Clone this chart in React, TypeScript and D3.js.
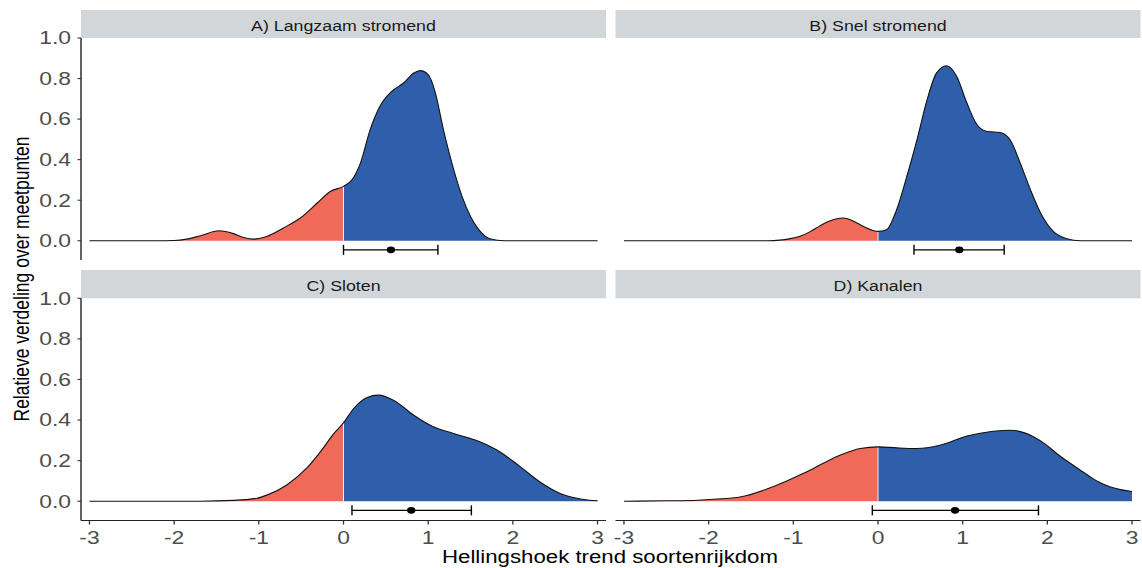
import React from 'react';
import * as d3 from 'd3';

// ---------- data ----------
const panelTitles = ['A) Langzaam stromend', 'B) Snel stromend', 'C) Sloten', 'D) Kanalen'];

const xA = [-3, -2.2, -2.0, -1.85, -1.69, -1.47, -1.3, -1.18, -1.06, -0.9, -0.71, -0.51, -0.31, -0.157, 0, 0.1, 0.2, 0.315, 0.43, 0.57, 0.71, 0.83, 0.906, 1.0, 1.08, 1.18, 1.28, 1.4, 1.5, 1.6, 1.73, 1.9, 3];
const yA = [0, 0, 0.001, 0.008, 0.025, 0.049, 0.035, 0.016, 0.008, 0.022, 0.063, 0.112, 0.186, 0.243, 0.268, 0.3, 0.383, 0.548, 0.663, 0.737, 0.778, 0.827, 0.839, 0.819, 0.737, 0.548, 0.383, 0.219, 0.12, 0.054, 0.01, 0, 0];

const xB = [-3, -1.3, -1.16, -1.05, -0.92, -0.8, -0.69, -0.6, -0.5, -0.41, -0.3, -0.17, 0, 0.1, 0.22, 0.34, 0.46, 0.58, 0.69, 0.81, 0.93, 1.05, 1.17, 1.29, 1.44, 1.56, 1.68, 1.8, 1.92, 2.07, 2.23, 2.39, 3];
const yB = [0, 0, 0.003, 0.009, 0.022, 0.045, 0.072, 0.092, 0.107, 0.112, 0.099, 0.07, 0.046, 0.054, 0.153, 0.317, 0.498, 0.696, 0.827, 0.863, 0.81, 0.679, 0.572, 0.539, 0.534, 0.498, 0.383, 0.252, 0.137, 0.046, 0.01, 0, 0];

const xC = [-3, -1.69, -1.3, -1.02, -0.905, -0.67, -0.43, -0.24, -0.118, 0, 0.12, 0.28, 0.41, 0.59, 0.83, 1.06, 1.3, 1.61, 1.85, 2.09, 2.32, 2.56, 2.8, 3];
const yC = [0, 0, 0.004, 0.015, 0.03, 0.08, 0.165, 0.262, 0.332, 0.386, 0.457, 0.511, 0.523, 0.498, 0.424, 0.367, 0.334, 0.293, 0.243, 0.169, 0.095, 0.038, 0.011, 0.002];

const xD = [-3, -2.5, -2.13, -1.85, -1.63, -1.24, -0.84, -0.45, -0.21, 0, 0.22, 0.46, 0.73, 1.05, 1.36, 1.56, 1.84, 1.98, 2.11, 2.39, 2.5, 2.62, 2.7, 2.78, 2.88, 2.98, 3];
const yD = [0, 0.002, 0.005, 0.012, 0.021, 0.071, 0.145, 0.227, 0.26, 0.268, 0.263, 0.26, 0.276, 0.321, 0.345, 0.35, 0.317, 0.28, 0.235, 0.153, 0.122, 0.092, 0.078, 0.066, 0.056, 0.049, 0.048];

const errLow = [0.0, 0.425, 0.1, -0.067];
const errMid = [0.56, 0.96, 0.8, 0.91];
const errHigh = [1.115, 1.49, 1.51, 1.895];
const errY = -0.045;

const xTicks = [-3, -2, -1, 0, 1, 2, 3];
const yTicks = [0, 0.2, 0.4, 0.6, 0.8, 1.0];

const xTitle = 'Hellingshoek trend soortenrijkdom';
const yTitle = 'Relatieve verdeling over meetpunten';

// ---------- style / layout ----------
const FONT = "'Liberation Sans', Arial, Helvetica, sans-serif";
const SX = 1.27;
const RED = '#F16959';
const BLUE = '#2F5FAA';
const STRIP = '#D3D6D9';
const cols: [number, number][] = [[81, 606], [615.5, 1140.5]];
const rows = [
  { strip: [10, 38], plot: [38, 260] },
  { strip: [270, 298.3], plot: [298.3, 520.5] },
];
const X_DOMAIN: [number, number] = [-3.1, 3.1];
const Y_DOMAIN: [number, number] = [-0.095, 1.0];

const series = [
  { xs: xA, ys: yA },
  { xs: xB, ys: yB },
  { xs: xC, ys: yC },
  { xs: xD, ys: yD },
];

function Txt(props: { x: number; y: number; anchor?: string; size: number; fill?: string; rotate?: boolean; children: any }) {
  const { x, y, anchor = 'middle', size, fill = '#000', rotate = false, children } = props;
  return (
    <text
      transform={`translate(${x},${y}) scale(${SX},1)${rotate ? ' rotate(-90)' : ''}`}
      textAnchor={anchor}
      fontSize={size}
      fontFamily={FONT}
      fill={fill}
    >
      {children}
    </text>
  );
}

function Panel({ i }: { i: number }) {
  const col = cols[i % 2];
  const row = rows[Math.floor(i / 2)];
  const xs = d3.scaleLinear().domain(X_DOMAIN).range(col);
  const ys = d3.scaleLinear().domain(Y_DOMAIN).range([row.plot[1], row.plot[0]]);
  const s = series[i];
  const pts: [number, number][] = s.xs.map((x, k) => [x, s.ys[k]]);
  const area = d3
    .area<[number, number]>()
    .x((d) => xs(d[0]))
    .y0(ys(0))
    .y1((d) => ys(d[1]))
    .curve(d3.curveMonotoneX);
  const line = d3
    .line<[number, number]>()
    .x((d) => xs(d[0]))
    .y((d) => ys(d[1]))
    .curve(d3.curveMonotoneX);
  const zeroIdx = s.xs.indexOf(0);
  const d0 = zeroIdx >= 0 ? s.ys[zeroIdx] : 0;
  const showX = Math.floor(i / 2) === 1;
  const showY = i % 2 === 0;
  const ey = ys(errY);
  const ph = row.plot[1] - row.plot[0];

  return (
    <g>
      <defs>
        <clipPath id={`neg${i}`}>
          <rect x={col[0]} y={row.plot[0]} width={xs(0) - col[0]} height={ph} />
        </clipPath>
        <clipPath id={`pos${i}`}>
          <rect x={xs(0)} y={row.plot[0]} width={col[1] - xs(0)} height={ph} />
        </clipPath>
      </defs>
      {/* strip */}
      <rect x={col[0]} y={row.strip[0]} width={col[1] - col[0]} height={row.strip[1] - row.strip[0]} fill={STRIP} />
      <Txt x={(col[0] + col[1]) / 2} y={row.strip[0] + 20.5} size={14} fill="#1a1a1a">
        {panelTitles[i]}
      </Txt>
      {/* density fills */}
      <path d={area(pts) || ''} fill={RED} clipPath={`url(#neg${i})`} />
      <path d={area(pts) || ''} fill={BLUE} clipPath={`url(#pos${i})`} />
      <line x1={xs(0)} x2={xs(0)} y1={ys(0)} y2={ys(d0)} stroke="#f2f2f2" strokeWidth={1} />
      <path d={line(pts) || ''} fill="none" stroke="#111" strokeWidth={1.1} />
      {/* error bar */}
      <line x1={xs(errLow[i])} x2={xs(errHigh[i])} y1={ey} y2={ey} stroke="#000" strokeWidth={1.3} />
      <line x1={xs(errLow[i])} x2={xs(errLow[i])} y1={ey - 5} y2={ey + 5} stroke="#000" strokeWidth={1.4} />
      <line x1={xs(errHigh[i])} x2={xs(errHigh[i])} y1={ey - 5} y2={ey + 5} stroke="#000" strokeWidth={1.4} />
      <ellipse cx={xs(errMid[i])} cy={ey} rx={4.2} ry={3.4} fill="#000" />
      {/* y axis */}
      {showY && (
        <g>
          <line x1={col[0]} x2={col[0]} y1={row.plot[0]} y2={row.plot[1]} stroke="#222" strokeWidth={1.4} />
          {yTicks.map((t) => (
            <g key={t}>
              <line x1={col[0] - 3.5} x2={col[0]} y1={ys(t)} y2={ys(t)} stroke="#333" strokeWidth={1.1} />
              <Txt x={col[0] - 10} y={ys(t) + 6.4} anchor="end" size={18} fill="#4d4d4d">
                {d3.format('.1f')(t)}
              </Txt>
            </g>
          ))}
        </g>
      )}
      {/* x axis */}
      {showX && (
        <g>
          <line x1={col[0]} x2={col[1]} y1={row.plot[1]} y2={row.plot[1]} stroke="#222" strokeWidth={1.1} />
          {xTicks.map((t) => (
            <g key={t}>
              <line x1={xs(t)} x2={xs(t)} y1={row.plot[1]} y2={row.plot[1] + 4} stroke="#333" strokeWidth={1.3} />
              <Txt x={xs(t)} y={row.plot[1] + 23} size={18} fill="#4d4d4d">
                {String(t)}
              </Txt>
            </g>
          ))}
        </g>
      )}
    </g>
  );
}

export default function App() {
  return (
    <svg
      width={1142}
      height={568}
      style={{ position: 'absolute', left: 0, top: 0, background: '#fff' }}
    >
      <rect width={1142} height={568} fill="#fff" />
      {[0, 1, 2, 3].map((i) => (
        <Panel key={i} i={i} />
      ))}
      <Txt x={610} y={563} size={17.5}>
        {xTitle}
      </Txt>
      <Txt x={28.5} y={279} size={17.5} rotate>
        {yTitle}
      </Txt>
    </svg>
  );
}
